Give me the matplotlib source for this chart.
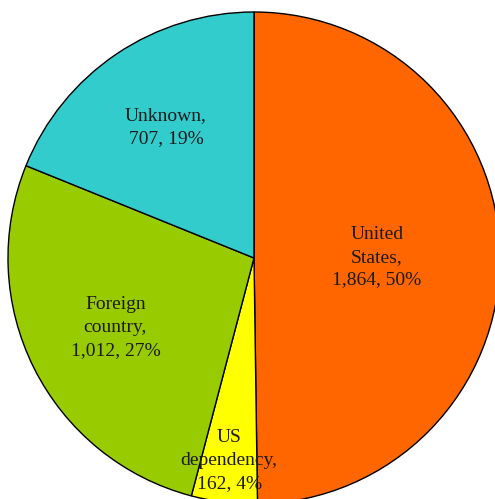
import numpy as np
import matplotlib.pyplot as plt

# Place of birth breakdown
categories = ["United\nStates", "US\ndependency", "Foreign\ncountry", "Unknown"]
counts = [1864, 162, 1012, 707]
colors = ["#FF6600", "#FFFF00", "#99CC00", "#33CCCC"]
# radial position of each label, as a fraction of the pie radius
label_r = [0.5, 0.83, 0.63, 0.64]

fig = plt.figure(figsize=(4.95, 4.99), dpi=100)
ax = fig.add_axes([0, 0, 1, 1])

wedges, _ = ax.pie(
    counts, colors=colors, startangle=90, counterclock=False,
    radius=1.0, center=(0, 0),
    wedgeprops=dict(edgecolor="black", linewidth=1.0),
)

total = sum(counts)
for w, cat, n, r in zip(wedges, categories, counts, label_r):
    mid = np.deg2rad((w.theta1 + w.theta2) / 2)
    pct = round(100 * n / total)
    ax.text(r * np.cos(mid), r * np.sin(mid), f"{cat},\n{n:,}, {pct}%",
            ha="center", va="center", fontsize=14, linespacing=1.45,
            family="Liberation Serif", color="#1a1a1a")

# pie is centred at (254, 258) px with a 246 px radius, spilling past the right and bottom
ax.set_xlim(-254 / 246, (495 - 254) / 246)
ax.set_ylim((258 - 499) / 246, 258 / 246)
ax.set_aspect("auto")
ax.axis("off")

fig.savefig("out.png", dpi=100)
